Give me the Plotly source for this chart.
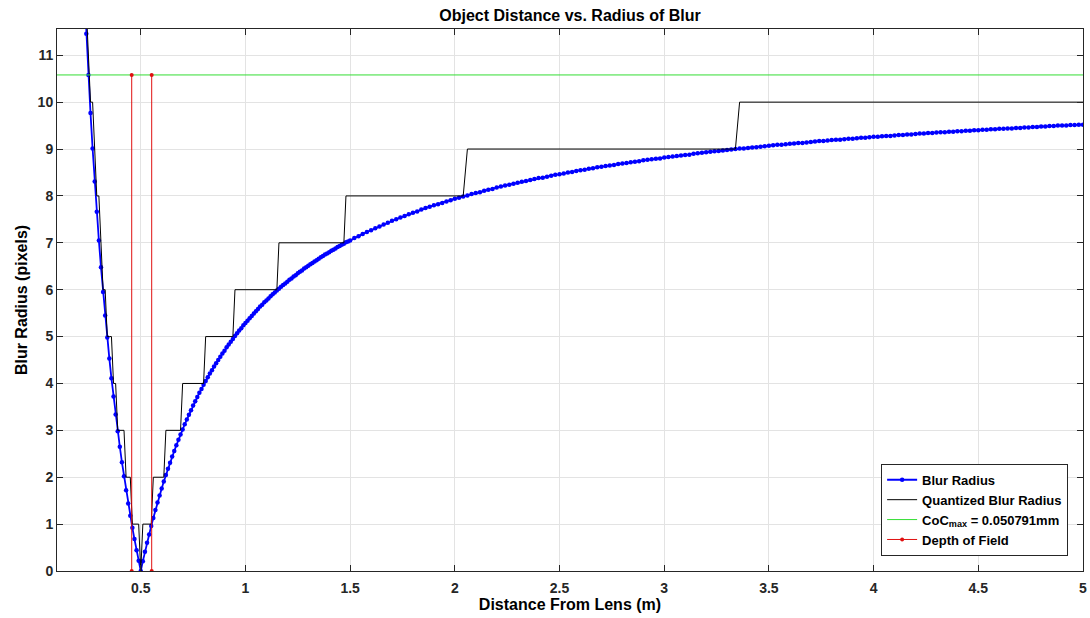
import plotly.graph_objects as go

# Object distance (m)
distance_m = [
    0.23, 0.24, 0.25, 0.26, 0.27, 0.28, 0.29,
    0.30, 0.31, 0.32, 0.33, 0.34, 0.35, 0.36, 0.37, 0.38, 0.39,
    0.40, 0.41, 0.42, 0.43, 0.44, 0.45, 0.46, 0.47, 0.48, 0.49,
    0.50, 0.51, 0.52, 0.53, 0.54, 0.55, 0.56, 0.57, 0.58, 0.59,
    0.60, 0.61, 0.62, 0.63, 0.64, 0.65, 0.66, 0.67, 0.68, 0.69,
    0.70, 0.71, 0.72, 0.73, 0.74, 0.75, 0.76, 0.77, 0.78, 0.79,
    0.80, 0.81, 0.82, 0.83, 0.84, 0.85, 0.86, 0.87, 0.88, 0.89,
    0.90, 0.91, 0.92, 0.93, 0.94, 0.95, 0.96, 0.97, 0.98, 0.99,
    1.00, 1.01, 1.02, 1.03, 1.04, 1.05, 1.06, 1.07, 1.08, 1.09,
    1.10, 1.11, 1.12, 1.13, 1.14, 1.15, 1.16, 1.17, 1.18, 1.19,
    1.20, 1.21, 1.22, 1.23, 1.24, 1.25, 1.26, 1.27, 1.28, 1.29,
    1.30, 1.31, 1.32, 1.33, 1.34, 1.35, 1.36, 1.37, 1.38, 1.39,
    1.40, 1.41, 1.42, 1.43, 1.44, 1.45, 1.46, 1.47, 1.48, 1.49,
    1.50,
    1.52, 1.54, 1.56, 1.58, 1.60, 1.62, 1.64, 1.66, 1.68, 1.70,
    1.72, 1.74, 1.76, 1.78, 1.80, 1.82, 1.84, 1.86, 1.88, 1.90,
    1.92, 1.94, 1.96, 1.98, 2.00, 2.02, 2.04, 2.06, 2.08, 2.10,
    2.12, 2.14, 2.16, 2.18, 2.20, 2.22, 2.24, 2.26, 2.28, 2.30,
    2.32, 2.34, 2.36, 2.38, 2.40, 2.42, 2.44, 2.46, 2.48, 2.50,
    2.52, 2.54, 2.56, 2.58, 2.60, 2.62, 2.64, 2.66, 2.68, 2.70,
    2.72, 2.74, 2.76, 2.78, 2.80, 2.82, 2.84, 2.86, 2.88, 2.90,
    2.92, 2.94, 2.96, 2.98, 3.00, 3.02, 3.04, 3.06, 3.08, 3.10,
    3.12, 3.14, 3.16, 3.18, 3.20, 3.22, 3.24, 3.26, 3.28, 3.30,
    3.32, 3.34, 3.36, 3.38, 3.40, 3.42, 3.44, 3.46, 3.48, 3.50,
    3.52, 3.54, 3.56, 3.58, 3.60, 3.62, 3.64, 3.66, 3.68, 3.70,
    3.72, 3.74, 3.76, 3.78, 3.80, 3.82, 3.84, 3.86, 3.88, 3.90,
    3.92, 3.94, 3.96, 3.98, 4.00, 4.02, 4.04, 4.06, 4.08, 4.10,
    4.12, 4.14, 4.16, 4.18, 4.20, 4.22, 4.24, 4.26, 4.28, 4.30,
    4.32, 4.34, 4.36, 4.38, 4.40, 4.42, 4.44, 4.46, 4.48, 4.50,
    4.52, 4.54, 4.56, 4.58, 4.60, 4.62, 4.64, 4.66, 4.68, 4.70,
    4.72, 4.74, 4.76, 4.78, 4.80, 4.82, 4.84, 4.86, 4.88, 4.90,
    4.92, 4.94, 4.96, 4.98, 5.00,
]

# Blur radius (pixels)
blur_radius = [
    12.42, 11.46, 10.58, 9.77, 9.01, 8.31, 7.66,
    7.05, 6.48, 5.95, 5.45, 4.98, 4.53, 4.11, 3.72, 3.34, 2.98,
    2.65, 2.32, 2.02, 1.72, 1.44, 1.18, 0.92, 0.68, 0.44, 0.22,
    0.00, 0.21, 0.41, 0.60, 0.78, 0.96, 1.13, 1.30, 1.46, 1.61,
    1.76, 1.91, 2.05, 2.18, 2.31, 2.44, 2.56, 2.68, 2.80, 2.91,
    3.02, 3.13, 3.23, 3.33, 3.43, 3.53, 3.62, 3.71, 3.80, 3.88,
    3.97, 4.05, 4.13, 4.21, 4.28, 4.36, 4.43, 4.50, 4.57, 4.64,
    4.70, 4.77, 4.83, 4.89, 4.95, 5.01, 5.07, 5.13, 5.18, 5.24,
    5.29, 5.34, 5.39, 5.44, 5.49, 5.54, 5.59, 5.64, 5.68, 5.73,
    5.77, 5.81, 5.86, 5.90, 5.94, 5.98, 6.02, 6.06, 6.10, 6.13,
    6.17, 6.21, 6.24, 6.28, 6.31, 6.35, 6.38, 6.41, 6.45, 6.48,
    6.51, 6.54, 6.57, 6.60, 6.63, 6.66, 6.69, 6.72, 6.75, 6.77,
    6.80, 6.83, 6.85, 6.88, 6.91, 6.93, 6.96, 6.98, 7.01, 7.03,
    7.05,
    7.10, 7.14, 7.19, 7.23, 7.27, 7.31, 7.35, 7.39, 7.43, 7.47,
    7.50, 7.54, 7.57, 7.61, 7.64, 7.67, 7.71, 7.74, 7.77, 7.80,
    7.82, 7.85, 7.88, 7.91, 7.94, 7.96, 7.99, 8.01, 8.04, 8.06,
    8.08, 8.11, 8.13, 8.15, 8.18, 8.20, 8.22, 8.24, 8.26, 8.28,
    8.30, 8.32, 8.34, 8.36, 8.38, 8.39, 8.41, 8.43, 8.45, 8.46,
    8.48, 8.50, 8.51, 8.53, 8.55, 8.56, 8.58, 8.59, 8.61, 8.62,
    8.64, 8.65, 8.66, 8.68, 8.69, 8.70, 8.72, 8.73, 8.74, 8.76,
    8.77, 8.78, 8.79, 8.80, 8.82, 8.83, 8.84, 8.85, 8.86, 8.87,
    8.88, 8.90, 8.91, 8.92, 8.93, 8.94, 8.95, 8.96, 8.97, 8.98,
    8.99, 9.00, 9.01, 9.01, 9.02, 9.03, 9.04, 9.05, 9.06, 9.07,
    9.08, 9.09, 9.09, 9.10, 9.11, 9.12, 9.13, 9.13, 9.14, 9.15,
    9.16, 9.17, 9.17, 9.18, 9.19, 9.20, 9.20, 9.21, 9.22, 9.22,
    9.23, 9.24, 9.24, 9.25, 9.26, 9.26, 9.27, 9.28, 9.28, 9.29,
    9.30, 9.30, 9.31, 9.31, 9.32, 9.33, 9.33, 9.34, 9.34, 9.35,
    9.36, 9.36, 9.37, 9.37, 9.38, 9.38, 9.39, 9.39, 9.40, 9.40,
    9.41, 9.41, 9.42, 9.42, 9.43, 9.43, 9.44, 9.44, 9.45, 9.45,
    9.46, 9.46, 9.47, 9.47, 9.48, 9.48, 9.49, 9.49, 9.50, 9.50,
    9.50, 9.51, 9.51, 9.52, 9.52,
]

# Quantized blur radius (pixels)
quantized_radius = [
    13, 12, 11, 10, 10, 9, 8,
    8, 7, 6, 6, 5, 5, 5, 4, 4, 3,
    3, 3, 3, 2, 2, 2, 1, 1, 1, 1,
    0, 1, 1, 1, 1, 1, 2, 2, 2, 2,
    2, 2, 3, 3, 3, 3, 3, 3, 3, 3,
    4, 4, 4, 4, 4, 4, 4, 4, 4, 4,
    4, 5, 5, 5, 5, 5, 5, 5, 5, 5,
    5, 5, 5, 5, 5, 6, 6, 6, 6, 6,
    6, 6, 6, 6, 6, 6, 6, 6, 6, 6,
    6, 6, 6, 6, 6, 6, 7, 7, 7, 7,
    7, 7, 7, 7, 7, 7, 7, 7, 7, 7,
    7, 7, 7, 7, 7, 7, 7, 7, 7, 7,
    7, 7, 7, 7, 7, 7, 7, 7, 8, 8,
    8,
    8, 8, 8, 8, 8, 8, 8, 8, 8, 8,
    8, 8, 8, 8, 8, 8, 8, 8, 8, 8,
    8, 8, 8, 8, 8, 8, 8, 9, 9, 9,
    9, 9, 9, 9, 9, 9, 9, 9, 9, 9,
    9, 9, 9, 9, 9, 9, 9, 9, 9, 9,
    9, 9, 9, 9, 9, 9, 9, 9, 9, 9,
    9, 9, 9, 9, 9, 9, 9, 9, 9, 9,
    9, 9, 9, 9, 9, 9, 9, 9, 9, 9,
    9, 9, 9, 9, 9, 9, 9, 9, 9, 9,
    9, 9, 10, 10, 10, 10, 10, 10, 10, 10,
    10, 10, 10, 10, 10, 10, 10, 10, 10, 10,
    10, 10, 10, 10, 10, 10, 10, 10, 10, 10,
    10, 10, 10, 10, 10, 10, 10, 10, 10, 10,
    10, 10, 10, 10, 10, 10, 10, 10, 10, 10,
    10, 10, 10, 10, 10, 10, 10, 10, 10, 10,
    10, 10, 10, 10, 10, 10, 10, 10, 10, 10,
    10, 10, 10, 10, 10, 10, 10, 10, 10, 10,
    10, 10, 10, 10, 10,
]

# Circle of confusion limit (pixels) and depth of field limits (m)
coc_max_x = [0.1, 5.0]
coc_max_y = [10.58, 10.58]
dof_x = [0.4568, 0.4568, None, 0.5522, 0.5522]
dof_y = [0.0, 10.58, None, 0.0, 10.58]

x_ticks = [0.5, 1, 1.5, 2, 2.5, 3, 3.5, 4, 4.5, 5]
x_tick_labels = ["0.5", "1", "1.5", "2", "2.5", "3", "3.5", "4", "4.5", "5"]
y_ticks = list(range(0, 12))

FONT = "Liberation Sans, Arial, Helvetica, sans-serif"
AXIS_COLOR = "#262626"

fig = go.Figure()
fig.add_trace(go.Scatter(
    x=distance_m, y=blur_radius, mode="lines+markers", name="<b>Blur Radius</b>",
    line=dict(color="#0000ff", width=1.8),
    marker=dict(color="#0000ff", size=4.5),
))
fig.add_trace(go.Scatter(
    x=distance_m, y=quantized_radius, mode="lines", name="<b>Quantized Blur Radius</b>",
    line=dict(color="#000000", width=1),
))
fig.add_trace(go.Scatter(
    x=coc_max_x, y=coc_max_y, mode="lines",
    name="<b>CoC<sub>max</sub> = 0.050791mm</b>",
    line=dict(color="#33dd33", width=1),
))
fig.add_trace(go.Scatter(
    x=dof_x, y=dof_y, mode="lines+markers", name="<b>Depth of Field</b>",
    line=dict(color="#e01010", width=1),
    marker=dict(color="#e01010", size=4),
))

axis_common = dict(
    showline=True, linecolor=AXIS_COLOR, linewidth=1, mirror="ticks",
    ticks="inside", ticklen=6, tickcolor=AXIS_COLOR,
    showgrid=True, gridcolor="#e3e3e3", gridwidth=1,
    zeroline=False, ticklabeloverflow="allow",
    tickfont=dict(family=FONT, size=14, color=AXIS_COLOR, weight="bold"),
)

fig.update_layout(
    width=1090, height=618,
    margin=dict(l=57, r=3, t=29, b=47),
    paper_bgcolor="white", plot_bgcolor="white",
    font=dict(family=FONT, color=AXIS_COLOR),
    title=dict(
        text="<b>Object Distance vs. Radius of Blur</b>",
        font=dict(family=FONT, size=16, color="#000000"),
        x=0.5, xref="paper", xanchor="center",
        y=1 - 15 / 618, yref="container", yanchor="middle",
    ),
    xaxis=dict(
        range=[0.1, 5.0], tickvals=x_ticks, ticktext=x_tick_labels,
        ticklabelstandoff=4,
        title=dict(text="<b>Distance From Lens (m)</b>",
                   font=dict(family=FONT, size=16, color="#000000"), standoff=4),
        **axis_common,
    ),
    yaxis=dict(
        range=[0, 11.56], tickvals=y_ticks,
        title=dict(text="<b>Blur Radius (pixels)</b>",
                   font=dict(family=FONT, size=16, color="#000000"), standoff=6),
        **axis_common,
    ),
    legend=dict(
        x=0.9855, y=0.028, xanchor="right", yanchor="bottom",
        bgcolor="white", bordercolor=AXIS_COLOR, borderwidth=1,
        font=dict(family=FONT, size=13, color="#000000"),
        tracegroupgap=0, itemwidth=30,
    ),
    showlegend=True,
)

fig.write_html("out.html")
